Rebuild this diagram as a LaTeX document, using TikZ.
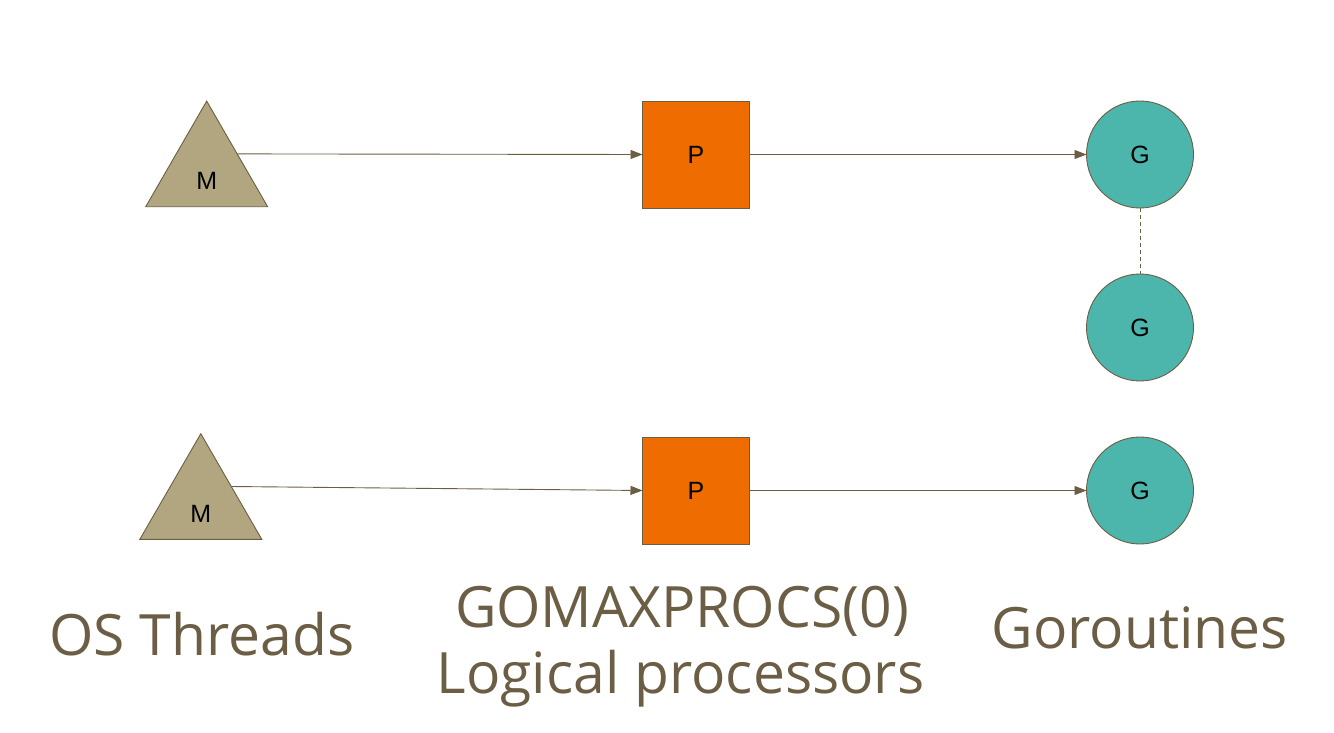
\documentclass[tikz,border=0pt]{standalone}
\usepackage{fontspec}
\setmainfont{Open Sans}
\newfontfamily\nodefont{Liberation Sans}
\usetikzlibrary{shapes.geometric,arrows.meta}
\definecolor{strokec}{HTML}{6B5E45}
\definecolor{trifill}{HTML}{B1A67F}
\definecolor{pfill}{HTML}{EF6C00}
\definecolor{gfill}{HTML}{4DB6AC}
\definecolor{txtc}{HTML}{6B5E45}
\tikzset{
  mnode/.style={regular polygon, regular polygon sides=3, minimum size=140.8pt, inner sep=0pt, outer sep=0pt,
    draw=strokec, fill=trifill, line width=0.9pt},
  pnode/.style={rectangle, minimum width=107pt, minimum height=107pt, inner sep=0pt, outer sep=0pt,
    draw=strokec, fill=pfill, line width=0.9pt, font=\nodefont\fontsize{25}{30}\selectfont},
  gnode/.style={circle, minimum size=107pt, inner sep=0pt, outer sep=0pt,
    draw=strokec, fill=gfill, line width=0.9pt, font=\nodefont\fontsize{25}{30}\selectfont},
  conn/.style={draw=strokec, line width=0.9pt, -{Triangle[length=12pt,width=9pt]}},
  dashconn/.style={draw=strokec, line width=0.9pt, dash pattern=on 4pt off 3pt},
  biglabel/.style={anchor=base, text=txtc, font=\fontsize{57}{60}\selectfont, inner sep=0pt},
  mlabel/.style={font=\nodefont\fontsize{25}{30}\selectfont, yshift=-9.5pt, inner sep=0pt}
}
\begin{document}
\begin{tikzpicture}[x=1pt,y=-1pt]
\useasboundingbox (0,0) rectangle (1334,733);
\node[mnode, label={[mlabel]center:M}] (m1) at (206.7,171.5) {};
\node[mnode, label={[mlabel]center:M}] (m2) at (200.8,504.1) {};
\node[pnode] (p1) at (696,154.5) {P};
\node[pnode] (p2) at (696,490.5) {P};
\node[gnode] (g1) at (1140,154.5) {G};
\node[gnode] (g2) at (1140,327.5) {G};
\node[gnode] (g3) at (1140,490.5) {G};
\draw[conn] (m1.side 3) -- (p1.west);
\draw[conn] (p1.east) -- (g1.west);
\draw[conn] (m2.side 3) -- (p2.west);
\draw[conn] (p2.east) -- (g3.west);
\draw[dashconn] (g1.south) -- (g2.north);
\node[biglabel] (lblos) at (202,655) {OS Threads};
\node[biglabel] (lblgo) at (682,627) {GOMAXPROCS(0)};
\node[biglabel] (lbllp) at (680.5,693) {Logical processors};
\node[biglabel] (lblgr) at (1140,648) {Goroutines};
\end{tikzpicture}
\end{document}
